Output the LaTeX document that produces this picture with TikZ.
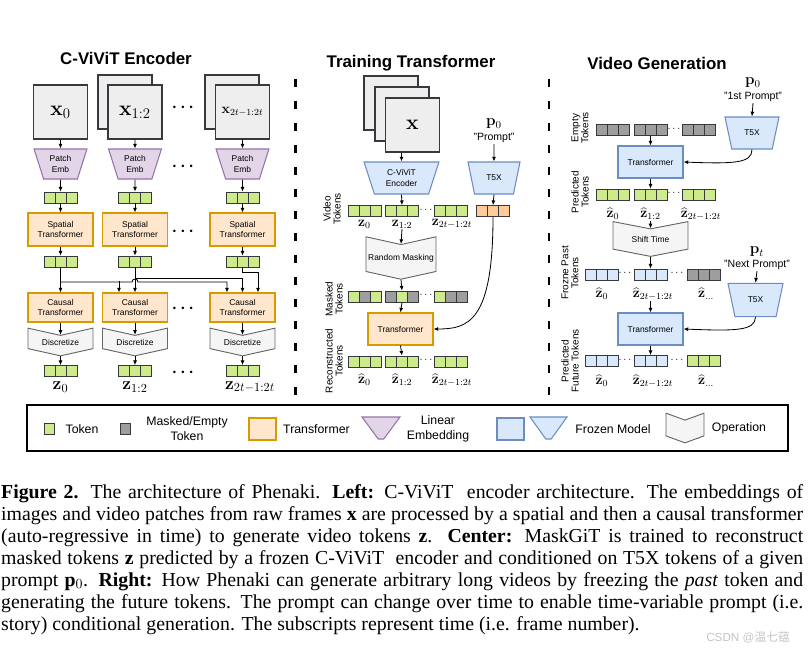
\RequirePackage{fix-cm}
\documentclass[tikz,border=0pt]{standalone}
\usepackage[no-math]{fontspec}
\setmainfont{Liberation Serif}
\setsansfont{Liberation Sans}
\newfontfamily\cjkfont{Noto Sans CJK SC}
\usetikzlibrary{arrows.meta,calc,positioning,shapes.geometric,shapes.symbols}

\definecolor{tokgreen}{HTML}{CDEB8B}
\definecolor{tokgray}{HTML}{9E9E9E}
\definecolor{tokblue}{HTML}{DAE8FC}
\definecolor{tokorange}{HTML}{FFCC99}
\definecolor{tokline}{HTML}{36393D}
\definecolor{tfmfill}{HTML}{FFE6CC}
\definecolor{tfmline}{HTML}{D79B00}
\definecolor{embfill}{HTML}{E1D5E7}
\definecolor{embline}{HTML}{9673A6}
\definecolor{frzfill}{HTML}{DAE8FC}
\definecolor{frzline}{HTML}{6C8EBF}
\definecolor{opfill}{HTML}{F5F5F5}
\definecolor{opline}{HTML}{666666}
\definecolor{imgfill}{HTML}{EEEEEE}
\definecolor{wmgray}{HTML}{C4C4C4}

\tikzset{
  headtxt/.style={font=\sffamily\bfseries\fontsize{14.4}{16}\selectfont},
  boxtxt/.style={font=\sffamily\fontsize{7.2}{8.6}\selectfont, align=center},
  imgbox/.style={draw=tokline, fill=imgfill, line width=0.9pt, minimum size=1.62cm, inner sep=0},
  tfm/.style={boxtxt, draw=tfmline, fill=tfmfill, line width=0.9pt, minimum width=1.95cm, minimum height=0.99cm, inner sep=1pt},
  frz/.style={tfm, draw=frzline, fill=frzfill},
  emb/.style={boxtxt, trapezium, trapezium angle=70, trapezium stretches=true, shape border rotate=180, draw=embline, fill=embfill, line width=0.9pt, minimum width=1.59cm, minimum height=0.9cm, inner sep=1pt},
  frzemb/.style={emb, draw=frzline, fill=frzfill},
  op/.style={boxtxt, signal, signal to=south, signal from=north, signal pointer angle=155, draw=opline, fill=opfill, line width=0.8pt, minimum width=1.95cm, minimum height=0.66cm, inner sep=1pt},
  cell/.style={draw=tokline, line width=0.6pt, minimum size=0.33cm, inner sep=0},
  pics/tokens/.style n args={3}{code={
    \node[cell, fill=#1] (-l) at (-11,0) {};
    \node[cell, fill=#2] (-m) at (0,0) {};
    \node[cell, fill=#3] (-r) at (11,0) {};
  }},
  arr/.style={-{Latex[length=4pt,width=3.4pt]}, line width=0.7pt},
  rot/.style={rotate=90, align=center, font=\sffamily\fontsize{8.5}{8.5}\selectfont},
  zlab/.style={font=\fontsize{12}{12}\selectfont, inner sep=0.5pt},
  zbig/.style={font=\fontsize{15}{15}\selectfont, inner sep=1pt},
  plab/.style={font=\fontsize{13}{13}\selectfont, inner sep=1pt},
  qtxt/.style={font=\sffamily\fontsize{9}{10}\selectfont, inner sep=1pt},
  bigdots/.style={font=\fontsize{14}{14}\selectfont\boldmath, inner sep=0},
  smdots/.style={font=\fontsize{9}{9}\selectfont, inner sep=0},
  divider/.style={line width=2.3pt, dash pattern=on 0.24cm off 0.42cm},
  legtxt/.style={font=\sffamily\fontsize{10.5}{12.8}\selectfont, align=center, inner sep=0},
  capline/.style={anchor=base west, inner sep=0, font=\fontsize{16.9}{18}\selectfont},
}

\begin{document}
\begin{tikzpicture}[x=0.03cm, y=-0.03cm]
    \useasboundingbox (0,0) rectangle (810,650);

    % panel titles and dividers
    \node[headtxt] (h1) at (126,58) {C-ViViT Encoder};
    \node[headtxt] (h2) at (411,63) {Training Transformer};
    \node[headtxt] (h3) at (657,63) {Video Generation};
    \draw[divider] (295.5,79) -- (295.5,397);
    \draw[divider] (549,79) -- (549,397);

    % % % left: C-ViViT encoder
    \node[imgbox] (bk2) at (125,102) {};
    \node[imgbox] (bk3) at (232,102) {};
    \node[imgbox, font=\fontsize{18}{18}\selectfont] (fr1) at (60.5,112) {$\mathbf{x}_0$};
    \node[imgbox, font=\fontsize{18}{18}\selectfont] (fr2) at (135,112) {$\mathbf{x}_{1:2}$};
    \node[imgbox, font=\fontsize{12}{12}\selectfont] (fr3) at (242.5,112) {$\mathbf{x}_{2t-1:2t}$};

    \foreach \i/\cx in {1/60.5, 2/135, 3/242.5}{
        \node[emb] (pe\i) at (\cx,164) {Patch\\Emb};
        \pic (ta\i) at (\cx,197.5) {tokens={tokgreen}{tokgreen}{tokgreen}};
        \node[tfm] (sp\i) at (\cx,229.5) {Spatial\\Transformer};
        \pic (tb\i) at (\cx,261.5) {tokens={tokgreen}{tokgreen}{tokgreen}};
        \node[tfm, minimum height=0.87cm] (ca\i) at (\cx,307.5) {Causal\\Transformer};
        \node[op] (di\i) at (\cx,342) {Discretize};
        \pic (tc\i) at (\cx,371) {tokens={tokgreen}{tokgreen}{tokgreen}};
        \draw[arr] (fr\i.south) -- (pe\i.north);
        \draw[arr] (pe\i.south) -- (ta\i-m.north);
        \draw[arr] (ta\i-m.south) -- (sp\i.north);
        \draw[arr] (sp\i.south) -- (tb\i-m.north);
        \draw[arr] (ca\i.south) -- (di\i.north);
        \draw[arr] (di\i.south) -- (tc\i-m.north);
    }
    \node[zbig] (z1) at (60.5,387) {$\mathbf{z}_0$};
    \node[zbig] (z2) at (135,387) {$\mathbf{z}_{1:2}$};
    \node[zbig] (z3) at (250,387) {$\mathbf{z}_{2t-1:2t}$};
    \foreach \y [count=\k] in {108,167,232,309,373}
        \node[bigdots] (ld\k) at (183,\y) {$\cdots$};

    % causal links (each step sees the past ones)
    \draw[arr] (tb1-m.south) -- (ca1.north);
    \draw[arr] (tb2-m.south) -- (ca2.north);
    \draw[arr] (tb1-m |- 0,282) -- (132,282) arc[start angle=180, end angle=0, radius=0.09cm] -| ($(ca3.north)+(-15.5,0)$);
    \draw[arr] ($(ca2.north)+(-16,-11)$) -- ($(ca2.north)+(-16,0)$);
    \draw[arr] (tb2-m |- 0,278) -| (ca3.north);
    \draw[arr] (tb3-m.south) -- ++(0,5) -| ($(ca3.north)+(15.5,0)$);

    % % % center: training transformer
    \node[imgbox] (mb1) at (391,103) {};
    \node[imgbox] (mb2) at (402,114) {};
    \node[imgbox, font=\fontsize{18}{18}\selectfont] (mb3) at (412.5,125) {$\mathbf{x}$};
    \node[plab] (p0m) at (494,124) {$\mathbf{p}_0$};
    \node[qtxt] (q0m) at (494,138) {"Prompt"};
    \node[frzemb, minimum width=2.25cm, minimum height=0.96cm, trapezium angle=71] (enc) at (401.5,178) {C-ViViT\\Encoder};
    \node[frzemb, minimum width=1.56cm, minimum height=0.96cm] (t5m) at (494,178) {T5X};
    \draw[arr] (enc.north |- mb3.south) -- (enc.north);
    \draw[arr] (q0m.south) -- (t5m.north);

    \pic (vt1) at (364.5,211) {tokens={tokgreen}{tokgreen}{tokgreen}};
    \pic (vt2) at (402,211) {tokens={tokgreen}{tokgreen}{tokgreen}};
    \pic (vt3) at (450.5,211) {tokens={tokgreen}{tokgreen}{tokgreen}};
    \pic (ot) at (493,211) {tokens={tokorange}{tokorange}{tokorange}};
    \node[smdots] (vd) at (426,210) {$\cdots$};
    \node[zlab] (vz1) at (364.5,224) {$\mathbf{z}_0$};
    \node[zlab] (vz2) at (402,224) {$\mathbf{z}_{1:2}$};
    \node[zlab] (vz3) at (452,224) {$\mathbf{z}_{2t-1:2t}$};
    \draw[arr] (enc.south) -- (vt2-m.north);
    \draw[arr] (t5m.south) -- (ot-m.north);

    \node[op, minimum width=2.1cm, minimum height=1.26cm] (rm) at (401,258) {Random Masking};
    \draw[arr] (vz2.south) -- (rm.north);
    \pic (mt1) at (364.5,296.5) {tokens={tokgreen}{tokgray}{tokgreen}};
    \pic (mt2) at (402,296.5) {tokens={tokgray}{tokgreen}{tokgray}};
    \pic (mt3) at (450.5,296.5) {tokens={tokgreen}{tokgray}{tokgray}};
    \node[smdots] (md) at (426,295.5) {$\cdots$};
    \draw[arr] (rm.south) -- (mt2-m.north);
    \node[tfm, minimum height=0.96cm] (tr) at (400.5,329) {Transformer};
    \draw[arr] (mt2-m.south) -- (tr.north);
    \draw[arr] (ot-m.south) .. controls (493,322) and (468,329) .. (tr.east);

    \pic (rt1) at (364.5,361.5) {tokens={tokgreen}{tokgreen}{tokgreen}};
    \pic (rt2) at (402,361.5) {tokens={tokgreen}{tokgreen}{tokgreen}};
    \pic (rt3) at (450.5,361.5) {tokens={tokgreen}{tokgreen}{tokgreen}};
    \node[smdots] (rd) at (426,360.5) {$\cdots$};
    \node[zlab] (rz1) at (364.5,380) {$\widehat{\mathbf{z}}_0$};
    \node[zlab] (rz2) at (402,380) {$\widehat{\mathbf{z}}_{1:2}$};
    \node[zlab] (rz3) at (452,380) {$\widehat{\mathbf{z}}_{2t-1:2t}$};
    \draw[arr] (tr.south) -- (rt2-m.north);

    \node[rot] (lv) at (332,209) {Video\\Tokens};
    \node[rot] (lm) at (334,299) {Masked\\Tokens};
    \node[rot] (lr) at (334,361) {Reconstructed\\Tokens};

    % % % right: video generation
    \node[plab] (p0r) at (753,83) {$\mathbf{p}_0$};
    \node[qtxt] (q0r) at (753,97) {"1st Prompt"};
    \node[frzemb, minimum width=1.62cm, minimum height=0.96cm] (t5a) at (752,133) {T5X};
    \draw[arr] (q0r.south) -- (t5a.north);

    \pic (et1) at (613,130) {tokens={tokgray}{tokgray}{tokgray}};
    \pic (et2) at (650.5,130) {tokens={tokgray}{tokgray}{tokgray}};
    \pic (et3) at (699,130) {tokens={tokgray}{tokgray}{tokgray}};
    \node[smdots] (ed) at (674,129) {$\cdots$};
    \node[frz, minimum height=0.96cm] (trA) at (650.5,162) {Transformer};
    \draw[arr] (et2-m.south) -- (trA.north);
    \draw[arr] (t5a.south) .. controls (752,163) and (735,164) .. (trA.east);

    \pic (pt1) at (613,194.5) {tokens={tokgreen}{tokgreen}{tokgreen}};
    \pic (pt2) at (650.5,194.5) {tokens={tokgreen}{tokgreen}{tokgreen}};
    \pic (pt3) at (699,194.5) {tokens={tokgreen}{tokgreen}{tokgreen}};
    \node[smdots] (pd) at (674,193.5) {$\cdots$};
    \node[zlab] (pz1) at (613,214) {$\widehat{\mathbf{z}}_0$};
    \node[zlab] (pz2) at (650.5,214) {$\widehat{\mathbf{z}}_{1:2}$};
    \node[zlab] (pz3) at (701,214) {$\widehat{\mathbf{z}}_{2t-1:2t}$};
    \draw[arr] (trA.south) -- (pt2-m.north);

    \node[op, minimum width=2.25cm, minimum height=0.84cm, signal pointer angle=158] (sh) at (650.5,239) {Shift Time};
    \draw[arr] (pz2.south) -- (sh.north);

    \node[plab] (ptr) at (757,252) {$\mathbf{p}_t$};
    \node[qtxt] (qtr) at (757,265) {"Next Prompt"};
    \node[frzemb, minimum width=1.65cm, minimum height=1.0cm] (t5b) at (755.5,300) {T5X};
    \draw[arr] (qtr.south) -- (t5b.north);

    \pic (fz1) at (602,274.5) {tokens={tokblue}{tokblue}{tokblue}};
    \pic (fz2) at (650.5,274.5) {tokens={tokblue}{tokblue}{tokblue}};
    \pic (fz3) at (704,274.5) {tokens={tokgray}{tokgray}{tokgray}};
    \node[smdots] (fd1) at (625,273.5) {$\cdots$};
    \node[smdots] (fd2) at (677,273.5) {$\cdots$};
    \node[zlab] (fzl1) at (602,294) {$\widehat{\mathbf{z}}_0$};
    \node[zlab] (fzl2) at (653,294) {$\widehat{\mathbf{z}}_{2t-1:2t}$};
    \node[zlab] (fzl3) at (706,294) {$\widehat{\mathbf{z}}_{\dots}$};
    \draw[arr] (sh.south) -- (fz2-m.north);

    \node[frz, minimum height=0.96cm] (trB) at (650.5,329) {Transformer};
    \draw[arr] (fzl2.south -| trB.north) -- (trB.north);
    \draw[arr] (t5b.south) .. controls (755,331) and (735,331) .. (trB.east);

    \pic (fu1) at (602,361) {tokens={tokblue}{tokblue}{tokblue}};
    \pic (fu2) at (650.5,361) {tokens={tokblue}{tokblue}{tokblue}};
    \pic (fu3) at (704,361) {tokens={tokgreen}{tokgreen}{tokgreen}};
    \node[smdots] (ud1) at (625,360) {$\cdots$};
    \node[smdots] (ud2) at (677,360) {$\cdots$};
    \node[zlab] (uz1) at (602,381) {$\widehat{\mathbf{z}}_0$};
    \node[zlab] (uz2) at (653,381) {$\widehat{\mathbf{z}}_{2t-1:2t}$};
    \node[zlab] (uz3) at (706,381) {$\widehat{\mathbf{z}}_{\dots}$};
    \draw[arr] (trB.south) -- (fu2-m.north);

    \node[rot] (le) at (580,128) {Empty\\Tokens};
    \node[rot] (lp) at (580,192) {Predicted\\Tokens};
    \node[rot] (lf) at (570,273) {Frozne Past\\Tokens};
    \node[rot] (lu) at (570,361) {Predicted\\Future Tokens};

    % % % legend
    \node[draw, line width=1.3pt, minimum width=22.83cm, minimum height=1.38cm] (leg) at (407.5,428) {};
    \node[cell, fill=tokgreen, minimum width=0.3cm] (lg1) at (49.5,428.5) {};
    \node[legtxt] (lt1) at (82,429) {Token};
    \node[cell, fill=tokgray, minimum width=0.3cm] (lg2) at (125,428.5) {};
    \node[legtxt] (lt2) at (187,428.5) {Masked/Empty\\Token};
    \node[tfm, minimum width=0.81cm, minimum height=0.66cm] (lg3) at (262.5,429) {};
    \node[legtxt] (lt3) at (316.5,429) {Transformer};
    \node[emb, minimum width=1.14cm, minimum height=0.66cm, trapezium angle=61] (lg4) at (381,428) {\strut};
    \node[legtxt] (lt4) at (438,428.5) {Linear\\Embedding};
    \node[frz, minimum width=0.81cm, minimum height=0.66cm] (lg5) at (510.5,429) {};
    \node[frzemb, minimum width=1.11cm, minimum height=0.66cm, trapezium angle=61] (lg6) at (548.5,428) {\strut};
    \node[legtxt] (lt5) at (613,429) {Frozen Model};
    \node[op, minimum width=1.14cm, minimum height=0.5cm, signal pointer angle=140] (lg7) at (685,428) {\strut};
    \node[legtxt] (lt6) at (739,428) {Operation};

    % % % caption
    \node[capline] (cap1) at (1,498) {\makebox[24.06cm][s]{\textbf{Figure 2.} The architecture of Phenaki. \textbf{Left:} C-ViViT\ \ encoder architecture. The embeddings of}};
    \node[capline] (cap2) at (1,520) {\makebox[24.06cm][s]{images and video patches from raw frames \textbf{x} are processed by a spatial and then a causal transformer}};
    \node[capline] (cap3) at (1,542) {\makebox[24.06cm][s]{(auto-regressive in time) to generate video tokens \textbf{z}. \textbf{Center:} MaskGiT is trained to reconstruct}};
    \node[capline] (cap4) at (1,564) {\makebox[24.06cm][s]{masked tokens \textbf{z} predicted by a frozen C-ViViT\ \ encoder and conditioned on T5X tokens of a given}};
    \node[capline] (cap5) at (1,586) {\makebox[24.06cm][s]{prompt \textbf{p}$_0$. \textbf{Right:} How Phenaki can generate arbitrary long videos by freezing the \textit{past} token and}};
    \node[capline] (cap6) at (1,608) {\makebox[24.06cm][s]{generating the future tokens. The prompt can change over time to enable time-variable prompt (i.e.}};
    \node[capline] (cap7) at (1,630) {story) conditional generation. The subscripts represent time (i.e. frame number).};
    \node[font=\sffamily\fontsize{10}{10}\selectfont, text=wmgray] (wm) at (748,637) {CSDN @{\cjkfont 温七蕴}};
\end{tikzpicture}
\end{document}
